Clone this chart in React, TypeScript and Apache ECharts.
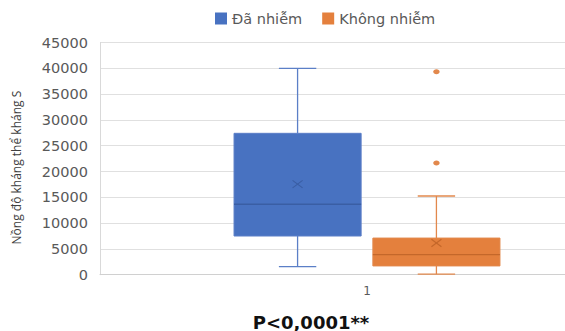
import React, { useEffect, useRef } from "react";
import * as echarts from "echarts";

const categories = ["1"];
const seriesNames = ["Đã nhiễm", "Không nhiễm"];
// [min, Q1, median, Q3, max, mean]
const infectedStats = [1550, 7500, 13650, 27400, 40000, 17550];
const notInfectedStats = [100, 1700, 3900, 7100, 15250, 6150];
const infectedOutliers: number[] = [];
const notInfectedOutliers = [21650, 39350];
const yTicks = { min: 0, max: 45000, interval: 5000 };
const titleText = "P<0,0001**";
const yAxisTitle = "Nồng độ kháng thể kháng S";

const colors = [
  { fill: "#4872C1", line: "#5B7FC7", dark: "#3A5EA4" },
  { fill: "#E4803D", line: "#E2884C", dark: "#C4672A" },
];
const offsets = [-0.13, 0.13];
const BOX_FRAC = 0.238;
const CAP_FRAC = 0.07;

function makeBoxRender(idx: number) {
  return (params: any, api: any) => {
    const xv = api.value(0);
    const band = api.size([1, 0])[0];
    const c0 = api.coord([xv, 0]);
    const cx = c0[0] + offsets[idx] * band;
    const w = BOX_FRAC * band;
    const cap = CAP_FRAC * band;
    const y = (v: number) => api.coord([xv, v])[1];
    const mn = y(api.value(1));
    const q1 = y(api.value(2));
    const md = y(api.value(3));
    const q3 = y(api.value(4));
    const mx = y(api.value(5));
    const mean = y(api.value(6));
    const col = colors[idx];
    const lineStyle = { stroke: col.line, lineWidth: 1.3 };
    const m = 5;
    return {
      type: "group",
      children: [
        { type: "line", shape: { x1: cx, y1: q3, x2: cx, y2: mx }, style: lineStyle },
        { type: "line", shape: { x1: cx, y1: q1, x2: cx, y2: mn }, style: lineStyle },
        { type: "line", shape: { x1: cx - cap / 2, y1: mx, x2: cx + cap / 2, y2: mx }, style: lineStyle },
        { type: "line", shape: { x1: cx - cap / 2, y1: mn, x2: cx + cap / 2, y2: mn }, style: lineStyle },
        {
          type: "rect",
          shape: { x: cx - w / 2, y: q3, width: w, height: q1 - q3 },
          style: { fill: col.fill, stroke: col.line, lineWidth: 1 },
        },
        { type: "line", shape: { x1: cx - w / 2, y1: md, x2: cx + w / 2, y2: md }, style: { stroke: col.dark, lineWidth: 1.3 } },
        { type: "line", shape: { x1: cx - m, y1: mean - m * 0.75, x2: cx + m, y2: mean + m * 0.75 }, style: { stroke: col.dark, lineWidth: 1.2 } },
        { type: "line", shape: { x1: cx - m, y1: mean + m * 0.75, x2: cx + m, y2: mean - m * 0.75 }, style: { stroke: col.dark, lineWidth: 1.2 } },
      ],
    };
  };
}

function makeOutlierRender(idx: number) {
  return (params: any, api: any) => {
    const xv = api.value(0);
    const band = api.size([1, 0])[0];
    const p = api.coord([xv, api.value(1)]);
    return {
      type: "ellipse",
      shape: { cx: p[0] + offsets[idx] * band, cy: p[1], rx: 3.2, ry: 2.5 },
      style: { fill: colors[idx].line },
    };
  };
}

export default function App() {
  const ref = useRef<HTMLDivElement>(null);
  useEffect(() => {
    if (!ref.current) return;
    const chart = echarts.init(ref.current, null, { renderer: "svg" });
    const statsList = [infectedStats, notInfectedStats];
    const outlierList = [infectedOutliers, notInfectedOutliers];
    const series: any[] = [];
    statsList.forEach((st, i) => {
      series.push({
        type: "custom",
        name: seriesNames[i],
        itemStyle: { color: colors[i].fill },
        renderItem: makeBoxRender(i),
        encode: { x: 0, y: [1, 2, 3, 4, 5] },
        data: [[0, ...st]],
        clip: false,
        z: 3,
      });
      series.push({
        type: "custom",
        name: seriesNames[i],
        itemStyle: { color: colors[i].fill },
        renderItem: makeOutlierRender(i),
        encode: { x: 0, y: 1 },
        data: outlierList[i].map((v) => [0, v]),
        clip: false,
        z: 4,
      });
    });
    chart.setOption({
      animation: false,
      backgroundColor: "#ffffff",
      textStyle: { fontFamily: "'DejaVu Sans', sans-serif" },
      title: {
        text: titleText,
        left: 306,
        textAlign: "center",
        top: 308,
        textStyle: { fontFamily: "'DejaVu Sans', sans-serif", fontWeight: "bold", fontSize: 18, color: "#111111" },
      },
      legend: {
        data: seriesNames.map((n, i) => ({ name: n, itemStyle: { color: colors[i].fill } })),
        top: 6,
        left: 210,
        icon: "rect",
        itemWidth: 12,
        itemHeight: 12,
        itemGap: 20,
        textStyle: { fontSize: 14.5, color: "#595959", fontFamily: "'DejaVu Sans', sans-serif" },
      },
      grid: { left: 100, width: 534, top: 42.5, height: 232.2, outerBoundsMode: "none", containLabel: false },
      xAxis: {
        type: "category",
        data: categories,
        axisLine: { show: true, lineStyle: { color: "#d0d0d0", width: 1 } },
        axisTick: { show: false },
        axisLabel: { color: "#595959", fontSize: 12, margin: 10 },
        splitLine: { show: false },
      },
      yAxis: {
        type: "value",
        min: yTicks.min,
        max: yTicks.max,
        interval: yTicks.interval,
        name: yAxisTitle,
        nameLocation: "middle",
        nameRotate: 90,
        nameGap: 78,
        nameTextStyle: { color: "#404040", fontSize: 12, fontFamily: "'Open Sans', sans-serif", padding: [0, 18, 0, 0] },
        axisLine: { show: true, lineStyle: { color: "#d9d9d9" } },
        axisTick: { show: false },
        axisLabel: {
          color: "#595959",
          fontSize: 14.5,
          margin: 12,
          fontFamily: "'DejaVu Sans', sans-serif",
          formatter: (v: number) => String(v),
        },
        splitLine: { lineStyle: { color: "#e0e0e0", width: 1 } },
      },
      series,
    });
    return () => chart.dispose();
  }, []);
  return <div ref={ref} style={{ width: 565, height: 331, position: "absolute", left: 0, top: 0 }} />;
}
